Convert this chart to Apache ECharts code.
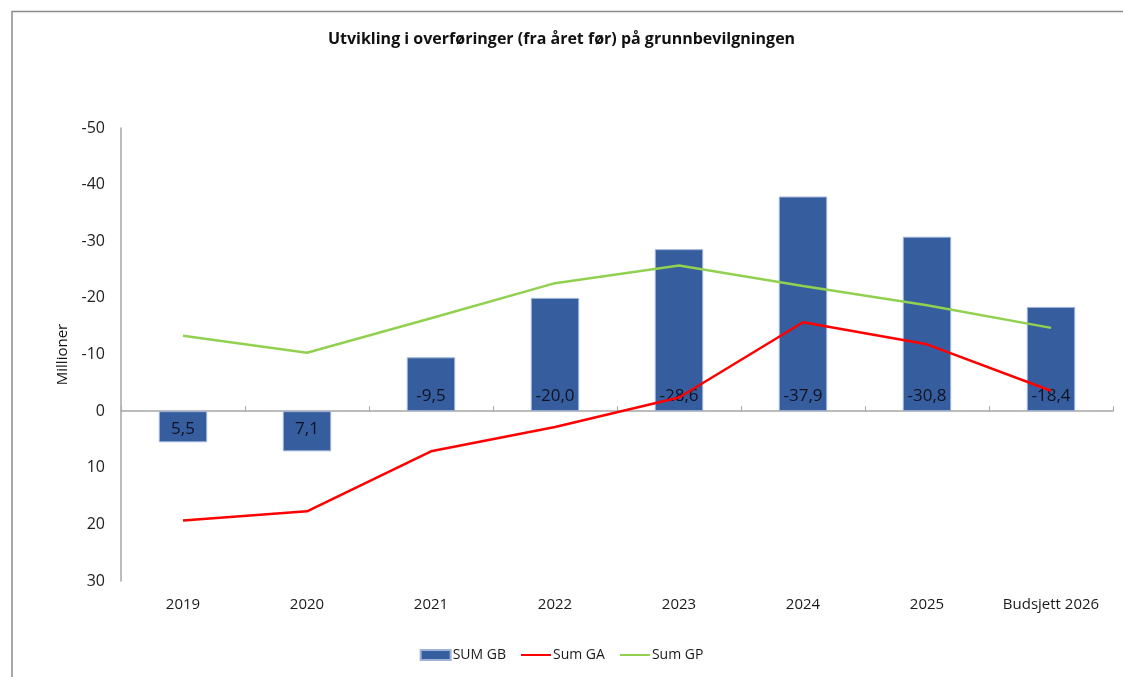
<!DOCTYPE html>
<html>
<head>
<meta charset="utf-8">
<script src="https://cdn.jsdelivr.net/npm/echarts@6/dist/echarts.min.js"></script>
<style>
  html, body { margin: 0; padding: 0; background: #fff; }
  #chart { width: 1123px; height: 677px; }
</style>
</head>
<body>
<div id="chart"></div>
<script>
const categories = ["2019", "2020", "2021", "2022", "2023", "2024", "2025", "Budsjett 2026"];
const sumGB = [5.5, 7.1, -9.5, -20.0, -28.6, -37.9, -30.8, -18.4];
const sumGA = [19.3, 17.7, 7.1, 2.8, -2.4, -15.7, -11.8, -3.6];
const sumGP = [-13.3, -10.3, -16.4, -22.6, -25.7, -22.1, -18.7, -14.7];

const font = "'Open Sans', sans-serif";
const fmt = v => v.toFixed(1).replace(".", ",");

const chart = echarts.init(document.getElementById("chart"));

const option = {
  animation: false,
  textStyle: { fontFamily: font },
  title: {
    text: "Utvikling i overføringer (fra året før) på grunnbevilgningen",
    left: "center",
    top: 26,
    textStyle: { fontSize: 16, fontWeight: "bold", color: "#111", fontFamily: font },
  },
  graphic: [
    {
      type: "polyline",
      shape: { points: [[12, 677], [12, 11.5], [1123, 11.5]] },
      style: { stroke: "#8c8c8c", lineWidth: 1.5, fill: null },
    },
  ],
  legend: {
    bottom: 10,
    left: "center",
    itemGap: 14,
    itemWidth: 30,
    itemHeight: 10,
    textStyle: { fontSize: 14, color: "#1a1a1a", fontFamily: font, padding: [0, 0, 0, -3] },
    data: [
      { name: "SUM GB", icon: "rect" },
      { name: "Sum GA", itemStyle: { opacity: 0 } },
      { name: "Sum GP", itemStyle: { opacity: 0 } },
    ],
  },
  grid: { left: 121, right: 10, top: 128, bottom: 96 },
  xAxis: [
    {
      type: "category",
      data: categories,
      position: "bottom",
      axisLine: { show: false, onZero: false },
      axisTick: { show: false },
      axisLabel: { interval: 0, fontSize: 15, color: "#1a1a1a", margin: 16, fontFamily: font },
    },
    {
      type: "category",
      data: categories,
      axisLine: { onZero: true, lineStyle: { color: "#a6a6a6", width: 1.5 } },
      axisTick: { show: true, interval: 0, length: 5, lineStyle: { color: "#a6a6a6" } },
      axisLabel: { show: false },
    },
  ],
  yAxis: {
    type: "value",
    inverse: true,
    min: -50,
    max: 30,
    interval: 10,
    name: "Millioner",
    nameLocation: "middle",
    nameGap: 45,
    nameTextStyle: { fontSize: 15, color: "#111", fontFamily: font },
    axisLine: { show: true, lineStyle: { color: "#a6a6a6", width: 1.5 } },
    axisTick: { show: false },
    splitLine: { show: false },
    axisLabel: { fontSize: 16, color: "#222", margin: 16, fontFamily: font },
  },
  series: [
    {
      name: "SUM GB",
      type: "bar",
      barWidth: "39%",
      itemStyle: { color: "#365E9F", borderColor: "#9fb3d8", borderWidth: 1 },
      data: sumGB.map(v => ({
        value: v,
        label: { position: v < 0 ? "insideBottom" : "insideTop", distance: v < 0 ? 6 : 10 },
      })),
      label: {
        show: true,
        fontSize: 17,
        color: "#111122",
        fontFamily: font,
        formatter: p => fmt(p.value),
      },
      z: 2,
    },
    {
      name: "Sum GA",
      type: "line",
      data: sumGA,
      symbol: "none",
      lineStyle: { color: "#ff0000", width: 2.5 },
      itemStyle: { color: "#ff0000" },
      z: 3,
    },
    {
      name: "Sum GP",
      type: "line",
      data: sumGP,
      symbol: "none",
      lineStyle: { color: "#92d050", width: 2.5 },
      itemStyle: { color: "#92d050" },
      z: 3,
    },
  ],
};

chart.setOption(option);
</script>
</body>
</html>
